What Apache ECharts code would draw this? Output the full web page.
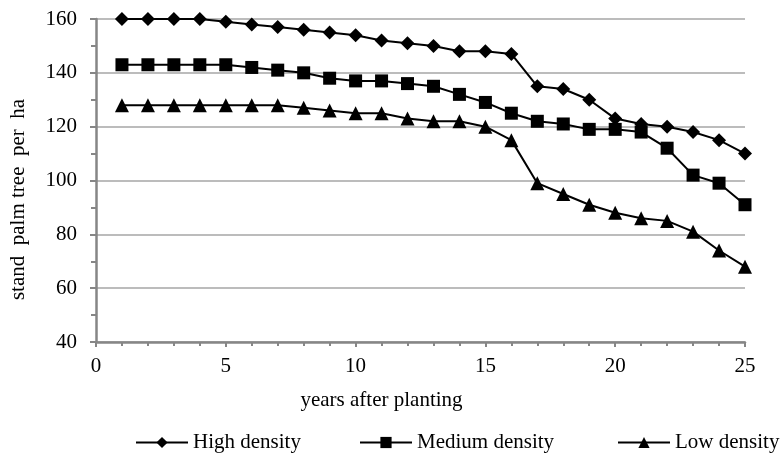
<!DOCTYPE html>
<html><head><meta charset="utf-8">
<script src="https://cdn.jsdelivr.net/npm/echarts@6/dist/echarts.min.js"></script>
<style>html,body{margin:0;padding:0;background:#fff}#c{width:781px;height:453px}</style>
</head><body><div id="c"></div>
<script>
const years = [1,2,3,4,5,6,7,8,9,10,11,12,13,14,15,16,17,18,19,20,21,22,23,24,25];
const highDensity = [160,160,160,160,159,158,157,156,155,154,152,151,150,148,148,147,135,134,130,123,121,120,118,115,110];
const mediumDensity = [143,143,143,143,143,142,141,140,138,137,137,136,135,132,129,125,122,121,119,119,118,112,102,99,91];
const lowDensity = [128,128,128,128,128,128,128,127,126,125,125,123,122,122,120,115,99,95,91,88,86,85,81,74,68];
const seriesNames = ['High density','Medium density','Low density'];
const xTicks = [0,5,10,15,20,25];
const yTicks = [40,60,80,100,120,140,160];

const font = 'Liberation Serif';
const fs = 21;
const pair = (vals) => years.map((y,i) => [y, vals[i]]);
const mk = (name, vals, symbol, size) => ({
  name, type: 'line', data: pair(vals), symbol, symbolSize: size,
  lineStyle: {color:'#000', width: 2}, itemStyle: {color:'#000'},
  emphasis: {disabled: true}, animation: false
});
const legendBase = {top: 427, itemWidth: 52, itemHeight: 14, itemGap: 0,
  textStyle: {fontFamily: font, fontSize: fs, color: '#000'}, selectedMode: false};
const axisGray = '#868686';

const chart = echarts.init(document.getElementById('c'), null, {renderer:'canvas'});
chart.setOption({
  backgroundColor: '#fff',
  animation: false,
  grid: {left: 96, right: 36, top: 19, bottom: 111},
  legend: [
    Object.assign({}, legendBase, {left: 130, data: [seriesNames[0]]}),
    Object.assign({}, legendBase, {left: 354, data: [seriesNames[1]]}),
    Object.assign({}, legendBase, {left: 612, data: [seriesNames[2]]})
  ],
  xAxis: {
    type: 'value', min: xTicks[0], max: xTicks[xTicks.length-1], interval: 5,
    name: 'years after planting', nameLocation: 'middle', nameGap: 48,
    nameTextStyle: {fontFamily: font, fontSize: fs, color: '#000', padding: [0, 78, 0, 0]},
    axisLine: {lineStyle: {color: axisGray, width: 2.5}},
    axisTick: {show: true, length: 5, lineStyle: {color: axisGray, width: 2}},
    minorTick: {show: true, splitNumber: 5, length: 4, lineStyle: {color: axisGray, width: 2}},
    axisLabel: {fontFamily: font, fontSize: fs, color: '#000', margin: 14},
    splitLine: {show: false}
  },
  yAxis: {
    type: 'value', min: yTicks[0], max: yTicks[yTicks.length-1], interval: 20,
    name: 'stand  palm tree  per  ha', nameLocation: 'middle', nameGap: 67,
    nameTextStyle: {fontFamily: font, fontSize: fs, color: '#000', padding: [0, 38, 0, 0]},
    axisLine: {show: true, lineStyle: {color: axisGray, width: 2.5}},
    axisTick: {show: true, length: 6, lineStyle: {color: axisGray, width: 2}},
    minorTick: {show: true, splitNumber: 2, length: 5, lineStyle: {color: axisGray, width: 2}},
    axisLabel: {fontFamily: font, fontSize: fs, color: '#000', margin: 19},
    splitLine: {show: true, lineStyle: {color: '#a6a6a6', width: 1.5}}
  },
  series: [
    mk(seriesNames[0], highDensity, 'diamond', 14),
    mk(seriesNames[1], mediumDensity, 'rect', 13),
    mk(seriesNames[2], lowDensity, 'triangle', 14)
  ]
});
</script></body></html>
